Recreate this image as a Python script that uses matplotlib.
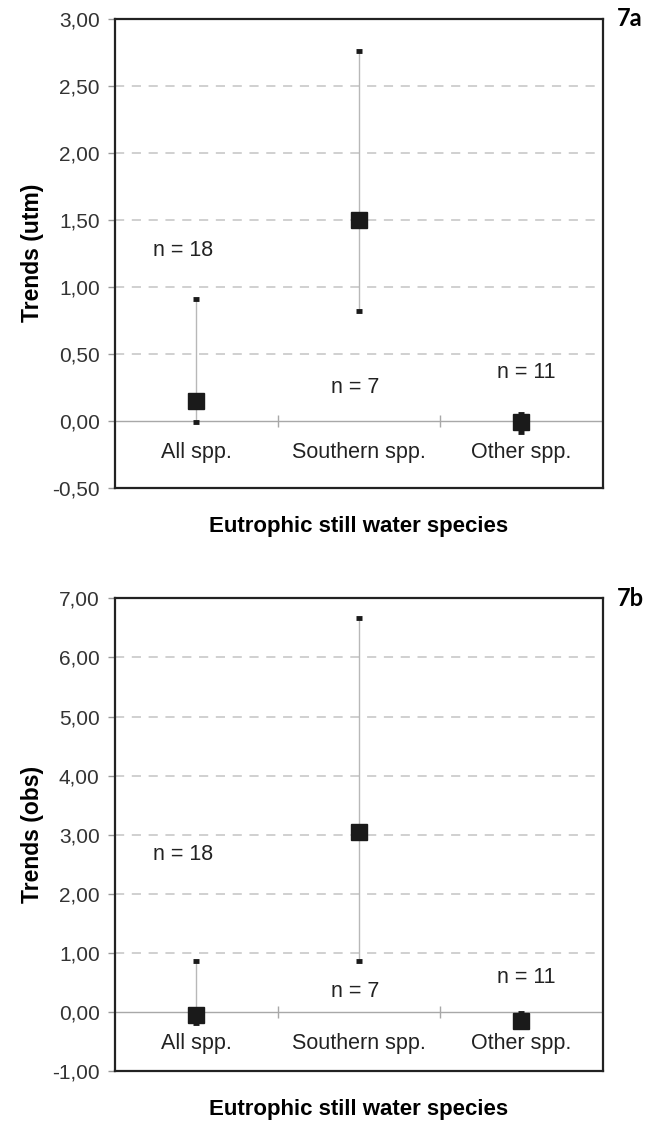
import numpy as np
import matplotlib.pyplot as plt

# data
categories = ['All spp.', 'Southern spp.', 'Other spp.']
n_species = [18, 7, 11]

utm_mean = [0.15, 1.50, -0.01]
utm_low = [-0.01, 0.82, -0.08]
utm_high = [0.91, 2.76, 0.05]

obs_mean = [-0.06, 3.05, -0.15]
obs_low = [-0.18, 0.86, -0.22]
obs_high = [0.86, 6.67, -0.02]

plt.rcParams['font.family'] = ['Liberation Sans', 'DejaVu Sans']


def trend_panel(ax, mean, low, high, ylim, step, ylabel, tag, n_pos):
    x = np.arange(len(categories))
    ax.set_xlim(-0.5, len(categories) - 0.5)
    ax.set_ylim(*ylim)

    # dashed grid, zero line and category separators
    ticks = np.arange(ylim[0], ylim[1] + step / 2, step)
    for t in ticks[1:-1]:
        if abs(t) > 1e-9:
            ax.axhline(t, color='#c4c4c4', lw=1.1, ls=(0, (6, 5)), zorder=1)
    ax.axhline(0, color='#a8a8a8', lw=1.0, zorder=2)
    ax.plot([0.5, 1.5], [0, 0], ls='none', marker='|', ms=9, mew=1.0,
            color='#a8a8a8', zorder=2)

    # min-max whiskers, caps and mean squares
    ax.vlines(x, low, high, color='#b8b8b8', lw=1.0, zorder=3)
    ax.plot(x, low, ls='none', marker='_', ms=5, mew=3.5, color='#1a1a1a', zorder=4)
    ax.plot(x, high, ls='none', marker='_', ms=5, mew=3.5, color='#1a1a1a', zorder=4)
    ax.plot(x, mean, ls='none', marker='s', ms=11, color='#1a1a1a', zorder=5)

    # category labels sit under the zero line
    for xi, name in zip(x, categories):
        ax.annotate(name, (xi, 0), xytext=(0, -23), textcoords='offset points',
                    ha='center', va='center', fontsize=15.5, color='#222222')
    for xi, n, (dx, ny) in zip(x, n_species, n_pos):
        ax.text(xi + dx, ny, f'n = {n}', ha='center', va='center',
                fontsize=15.5, color='#222222')

    ax.set_xticks([])
    ax.set_yticks(ticks)
    ax.set_yticklabels([f'{t:.2f}'.replace('.', ',') for t in ticks])
    ax.tick_params(axis='y', length=5, width=1, color='#999999', pad=6,
                   labelsize=15, labelcolor='#333333')
    for s in ax.spines.values():
        s.set_linewidth(1.6)
        s.set_color('#222222')
    ax.set_ylabel(ylabel, fontsize=16.5, fontweight='bold', labelpad=6)
    ax.set_xlabel('Eutrophic still water species', fontsize=16,
                  fontweight='bold', labelpad=20)
    ax.text(1.056, 1.0, tag, transform=ax.transAxes, ha='center', va='center',
            fontsize=17, fontweight='bold', family=['Lato', 'DejaVu Sans'])


fig = plt.figure(figsize=(6.46, 11.23), dpi=100)
ax1 = fig.add_axes([0.178, 0.5655, 0.755, 0.418])
ax2 = fig.add_axes([0.178, 0.0463, 0.755, 0.4209])

trend_panel(ax1, utm_mean, utm_low, utm_high, (-0.5, 3.0), 0.5,
            'Trends (utm)', '7a', [(-0.08, 1.27), (-0.02, 0.25), (0.03, 0.36)])
trend_panel(ax2, obs_mean, obs_low, obs_high, (-1.0, 7.0), 1.0,
            'Trends (obs)', '7b', [(-0.08, 2.66), (-0.02, 0.34), (0.03, 0.58)])

fig.savefig('out.png', dpi=100)
